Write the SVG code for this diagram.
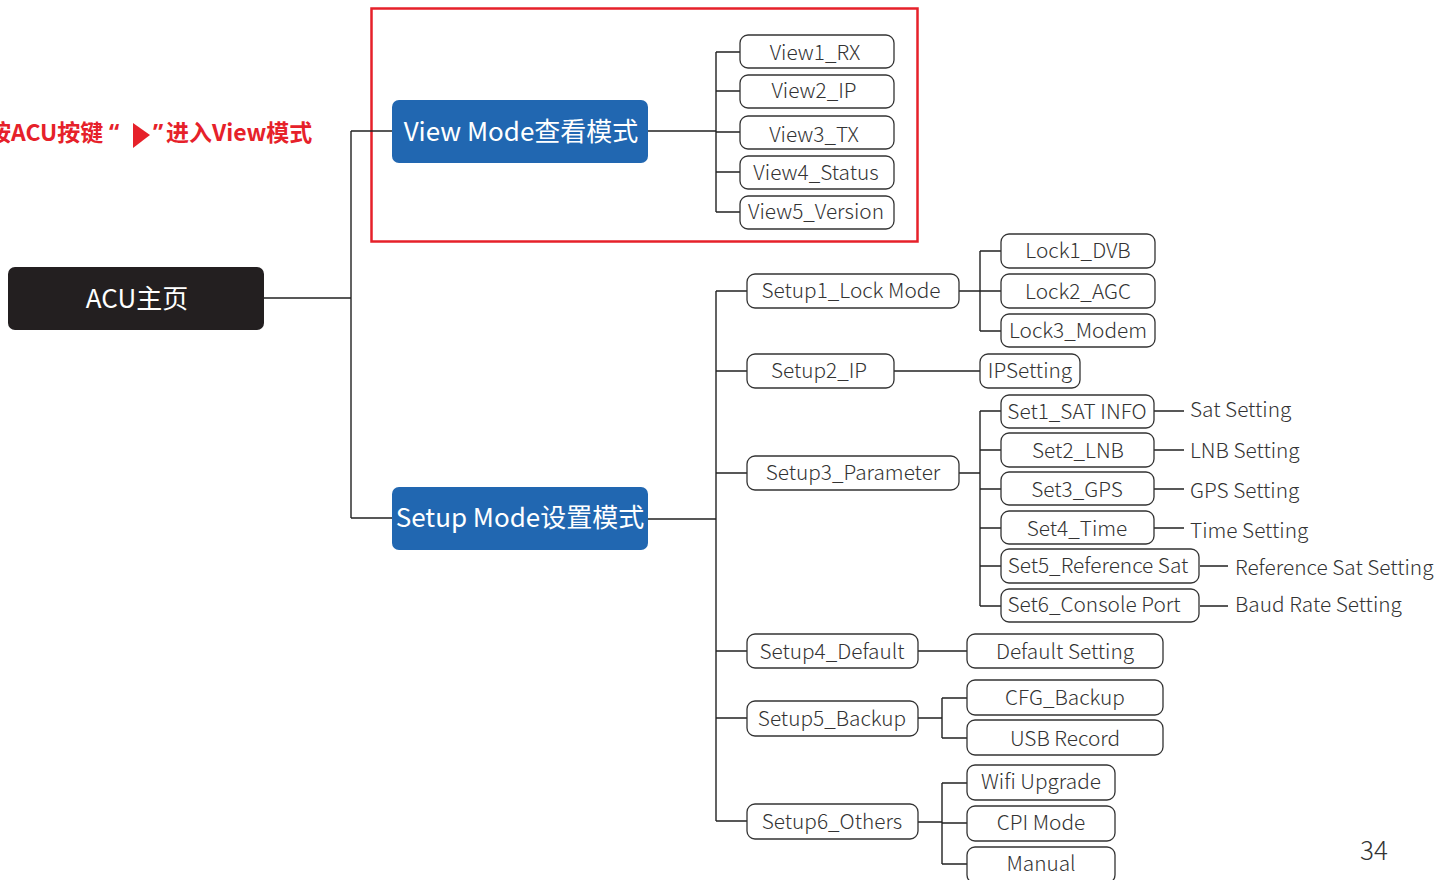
<svg xmlns="http://www.w3.org/2000/svg" width="1439" height="880" viewBox="0 0 1439 880">
<style>
text{font-family:"Noto Sans CJK SC","Noto Sans",sans-serif;}
.leaf rect{fill:#fff;stroke:#333;stroke-width:1.3;}
.leaf text{font-size:20.8px;font-weight:300;fill:#333;text-anchor:middle;dominant-baseline:central;}
.lbl{font-size:20.8px;font-weight:300;fill:#333;dominant-baseline:central;}
.main text{font-size:26px;fill:#fff;text-anchor:middle;dominant-baseline:central;font-weight:400;}
.conn path{fill:none;stroke:#222;stroke-width:1.4;}
.red{fill:#e6212a;font-size:23px;font-weight:700;}
.q{font-family:"Noto Sans",sans-serif;}
</style>
<rect width="1439" height="880" fill="#fff"/>
<rect x="371.5" y="8.5" width="546" height="233" fill="none" stroke="#e6212a" stroke-width="2.5"/>
<g id="note">
<text class="red" x="-12" y="141">按ACU按键</text>
<text class="red q" x="109" y="141">“</text>
<polygon points="133,123 150,135 133,148" fill="#e6212a"/>
<text class="red q" x="153" y="141">”</text>
<text class="red" x="166" y="141">进入View模式</text>
</g>
<g class="conn" id="connectors">
<path d="M264,298H351M351,131V518M351,131H392M351,518H392"/>
<path d="M648,131H716M716,52V212M716,52H740M716,91H740M716,132H740M716,172H740M716,212H740"/>
<path d="M648,519H716M716,291V821M716,291H747M716,371H747M716,473H747M716,651H747M716,718H747M716,821H747"/>
<path d="M959,291H980M980,251V331M980,251H1001M980,291H1001M980,331H1001"/>
<path d="M894,371H980"/>
<path d="M959,473H980M980,411V606M980,411H1001M980,450H1001M980,489H1001M980,528H1001M980,566H1001M980,606H1001"/>
<path d="M1154,411H1184M1154,450H1184M1154,489H1184M1154,528H1184M1200,566H1228M1200,606H1228"/>
<path d="M918,651H967"/>
<path d="M918,718H942M942,698V738M942,698H967M942,738H967"/>
<path d="M918,822H942M942,783V864M942,783H967M942,823H967M942,864H967"/>
</g>
<g class="main" id="acu"><rect x="8" y="267" width="256" height="63" rx="7" fill="#231f20"/><text x="137" y="296">ACU主页</text></g>
<g class="main" id="viewmode"><rect x="392" y="100" width="256" height="63" rx="7" fill="#2167b1"/><text x="521" y="129">View Mode查看模式</text></g>
<g class="main" id="setupmode"><rect x="392" y="487" width="256" height="63" rx="7" fill="#2167b1"/><text x="520" y="515" font-size="26.5">Setup Mode设置模式</text></g>
<g class="leaf" id="view1"><rect x="740" y="35" width="154" height="33" rx="8"/><text x="815" y="51">View1_RX</text></g>
<g class="leaf" id="view2"><rect x="740" y="75" width="154" height="33" rx="8"/><text x="814" y="89">View2_IP</text></g>
<g class="leaf" id="view3"><rect x="740" y="116" width="154" height="33" rx="8"/><text x="814" y="133">View3_TX</text></g>
<g class="leaf" id="view4"><rect x="740" y="156" width="154" height="33" rx="8"/><text x="816" y="171">View4_Status</text></g>
<g class="leaf" id="view5"><rect x="740" y="196" width="154" height="33" rx="8"/><text x="816" y="210">View5_Version</text></g>
<g class="leaf" id="setup1"><rect x="747" y="274" width="212" height="34" rx="8"/><text x="851" y="289">Setup1_Lock Mode</text></g>
<g class="leaf" id="setup2"><rect x="747" y="354" width="147" height="34" rx="8"/><text x="819" y="369">Setup2_IP</text></g>
<g class="leaf" id="setup3"><rect x="747" y="456" width="212" height="34" rx="8"/><text x="853" y="471">Setup3_Parameter</text></g>
<g class="leaf" id="setup4"><rect x="747" y="634" width="171" height="34" rx="8"/><text x="832" y="650">Setup4_Default</text></g>
<g class="leaf" id="setup5"><rect x="747" y="701" width="171" height="35" rx="8"/><text x="832" y="717">Setup5_Backup</text></g>
<g class="leaf" id="setup6"><rect x="747" y="804" width="171" height="35" rx="8"/><text x="832" y="820">Setup6_Others</text></g>
<g class="leaf" id="lock1"><rect x="1001" y="234" width="154" height="34" rx="8"/><text x="1078" y="249">Lock1_DVB</text></g>
<g class="leaf" id="lock2"><rect x="1001" y="274" width="154" height="34" rx="8"/><text x="1078" y="290">Lock2_AGC</text></g>
<g class="leaf" id="lock3"><rect x="1001" y="314" width="154" height="33" rx="8"/><text x="1078" y="329">Lock3_Modem</text></g>
<g class="leaf" id="ipsetting"><rect x="980" y="354" width="100" height="34" rx="8"/><text x="1030" y="369">IPSetting</text></g>
<g class="leaf" id="set1"><rect x="1001" y="395" width="153" height="33" rx="8"/><text x="1077" y="410">Set1_SAT INFO</text></g>
<g class="leaf" id="set2"><rect x="1001" y="433" width="153" height="34" rx="8"/><text x="1078" y="449">Set2_LNB</text></g>
<g class="leaf" id="set3"><rect x="1001" y="472" width="153" height="33" rx="8"/><text x="1077" y="488">Set3_GPS</text></g>
<g class="leaf" id="set4"><rect x="1001" y="511" width="153" height="33" rx="8"/><text x="1077" y="527">Set4_Time</text></g>
<g class="leaf" id="set5"><rect x="1001" y="549" width="198" height="34" rx="8"/><text x="1098" y="564">Set5_Reference Sat</text></g>
<g class="leaf" id="set6"><rect x="1001" y="589" width="198" height="33" rx="8"/><text x="1094" y="603">Set6_Console Port</text></g>
<g id="labels">
<text class="lbl" x="1190" y="408">Sat Setting</text>
<text class="lbl" x="1190" y="449">LNB Setting</text>
<text class="lbl" x="1190" y="489">GPS Setting</text>
<text class="lbl" x="1190" y="529">Time Setting</text>
<text class="lbl" x="1235" y="566">Reference Sat Setting</text>
<text class="lbl" x="1235" y="603">Baud Rate Setting</text>
</g>
<g class="leaf" id="default"><rect x="967" y="634" width="196" height="34" rx="8"/><text x="1065" y="650">Default Setting</text></g>
<g class="leaf" id="cfg"><rect x="967" y="680" width="196" height="35" rx="8"/><text x="1065" y="696">CFG_Backup</text></g>
<g class="leaf" id="usb"><rect x="967" y="720" width="196" height="35" rx="8"/><text x="1065" y="737">USB Record</text></g>
<g class="leaf" id="wifi"><rect x="967" y="765" width="148" height="35" rx="8"/><text x="1041" y="780">Wifi Upgrade</text></g>
<g class="leaf" id="cpi"><rect x="967" y="806" width="148" height="35" rx="8"/><text x="1041" y="821">CPI Mode</text></g>
<g class="leaf" id="manual"><rect x="967" y="847" width="148" height="36" rx="8"/><text x="1041" y="862">Manual</text></g>
<text x="1374" y="860" font-size="26" font-weight="300" fill="#333" text-anchor="middle">34</text>
</svg>
